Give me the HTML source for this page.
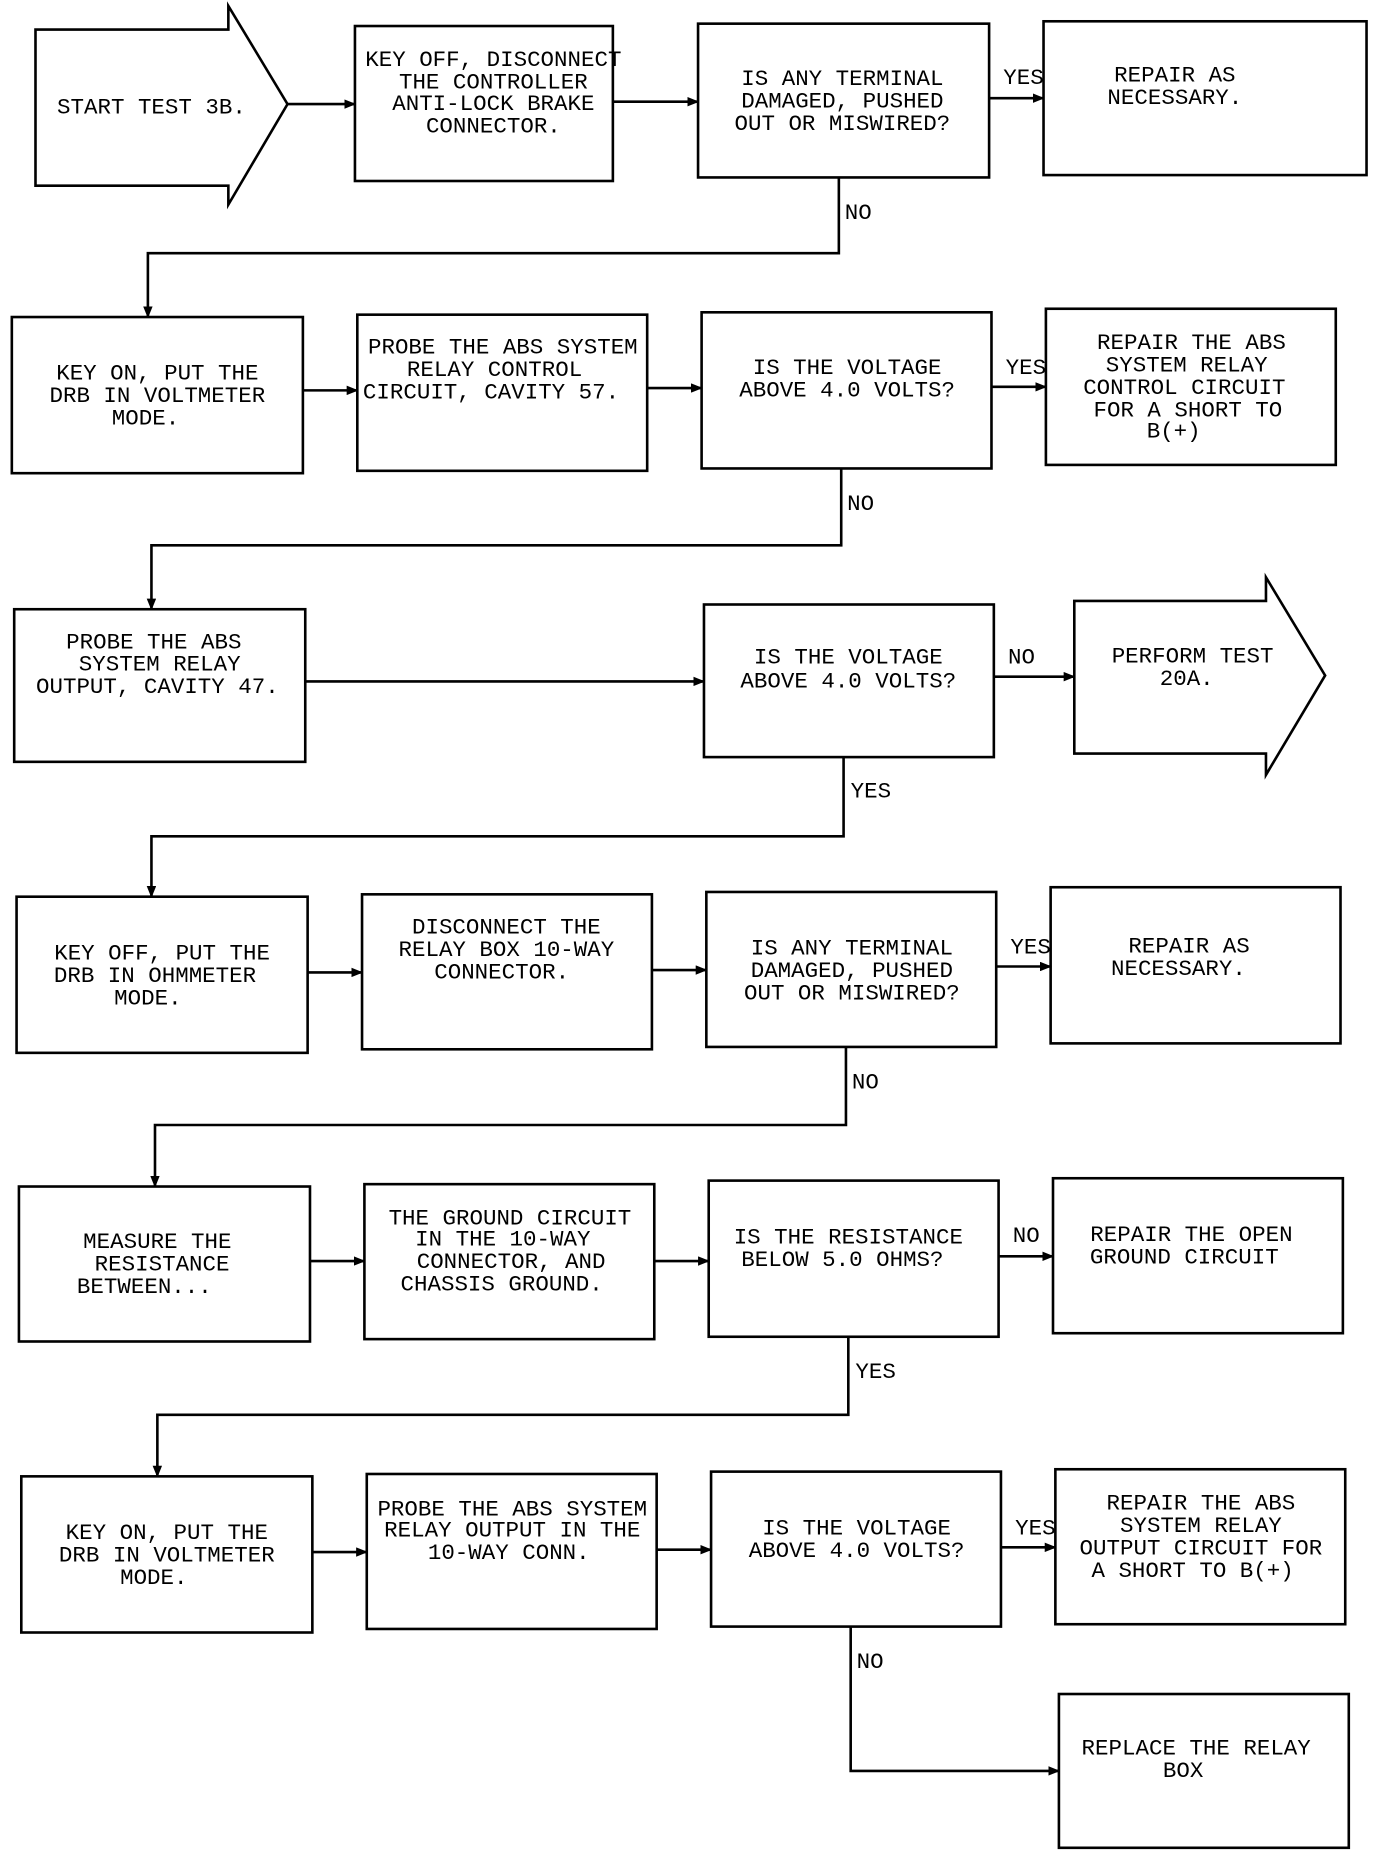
<!DOCTYPE html>
<html><head><meta charset="utf-8"><style>
html,body{margin:0;padding:0;background:#fff;}
svg{display:block;}
text{font-family:"Liberation Mono","DejaVu Sans Mono",monospace;font-size:19px;fill:#000;text-anchor:middle;}
.l{text-anchor:start;}
</style></head><body>
<svg width="1376" height="1862" viewBox="0 0 1163 1574" preserveAspectRatio="none" xmlns="http://www.w3.org/2000/svg">
<defs><marker id="a" markerWidth="10" markerHeight="8" refX="9" refY="4" orient="auto" markerUnits="userSpaceOnUse"><path d="M0,0 L10,4 L0,8 z" fill="#000"/></marker></defs>
<g fill="none" stroke="#000" stroke-width="2.2">
<!-- Row 1 -->
<path d="M30,25 L193,25 L193,5 L243,88 L193,173 L193,157 L30,157 Z"/>
<rect x="300" y="22" width="218" height="131"/>
<rect x="590" y="20" width="246" height="130"/>
<rect x="882" y="18" width="273" height="130"/>
<line x1="243" y1="88" x2="300" y2="88" marker-end="url(#a)"/>
<line x1="518" y1="86" x2="590" y2="86" marker-end="url(#a)"/>
<line x1="836" y1="83" x2="882" y2="83" marker-end="url(#a)"/>
<polyline points="709,150 709,214 125,214 125,268" marker-end="url(#a)"/>
<!-- Row 2 -->
<rect x="10" y="268" width="246" height="132"/>
<rect x="302" y="266" width="245" height="132"/>
<rect x="593" y="264" width="245" height="132"/>
<rect x="884" y="261" width="245" height="132"/>
<line x1="256" y1="330" x2="302" y2="330" marker-end="url(#a)"/>
<line x1="547" y1="328" x2="593" y2="328" marker-end="url(#a)"/>
<line x1="838" y1="327" x2="884" y2="327" marker-end="url(#a)"/>
<polyline points="711,396 711,461 128,461 128,515" marker-end="url(#a)"/>
<!-- Row 3 -->
<rect x="12" y="515" width="246" height="129"/>
<rect x="595" y="511" width="245" height="129"/>
<path d="M908,508 L1070,508 L1070,488 L1120,571 L1070,655 L1070,637 L908,637 Z"/>
<line x1="258" y1="576" x2="595" y2="576" marker-end="url(#a)"/>
<line x1="840" y1="572" x2="908" y2="572" marker-end="url(#a)"/>
<polyline points="713,640 713,707 128,707 128,758" marker-end="url(#a)"/>
<!-- Row 4 -->
<rect x="14" y="758" width="246" height="132"/>
<rect x="306" y="756" width="245" height="131"/>
<rect x="597" y="754" width="245" height="131"/>
<rect x="888" y="750" width="245" height="132"/>
<line x1="260" y1="822" x2="306" y2="822" marker-end="url(#a)"/>
<line x1="551" y1="820" x2="597" y2="820" marker-end="url(#a)"/>
<line x1="842" y1="817" x2="888" y2="817" marker-end="url(#a)"/>
<polyline points="715,885 715,951 131,951 131,1003" marker-end="url(#a)"/>
<!-- Row 5 -->
<rect x="16" y="1003" width="246" height="131"/>
<rect x="308" y="1001" width="245" height="131"/>
<rect x="599" y="998" width="245" height="132"/>
<rect x="890" y="996" width="245" height="131"/>
<line x1="262" y1="1066" x2="308" y2="1066" marker-end="url(#a)"/>
<line x1="553" y1="1066" x2="599" y2="1066" marker-end="url(#a)"/>
<line x1="844" y1="1062" x2="890" y2="1062" marker-end="url(#a)"/>
<polyline points="717,1130 717,1196 133,1196 133,1248" marker-end="url(#a)"/>
<!-- Row 6 -->
<rect x="18" y="1248" width="246" height="132"/>
<rect x="310" y="1246" width="245" height="131"/>
<rect x="601" y="1244" width="245" height="131"/>
<rect x="892" y="1242" width="245" height="131"/>
<rect x="895" y="1432" width="245" height="130"/>
<line x1="264" y1="1312" x2="310" y2="1312" marker-end="url(#a)"/>
<line x1="555" y1="1310" x2="601" y2="1310" marker-end="url(#a)"/>
<line x1="846" y1="1308" x2="892" y2="1308" marker-end="url(#a)"/>
<polyline points="719,1375 719,1497 895,1497" marker-end="url(#a)"/>
</g>
<!-- Text -->
<text x="128" y="96">START TEST 3B.</text>
<text x="417" y="56">KEY OFF, DISCONNECT</text>
<text x="417" y="75">THE CONTROLLER</text>
<text x="417" y="93">ANTI-LOCK BRAKE</text>
<text x="417" y="112">CONNECTOR.</text>
<text x="712" y="72">IS ANY TERMINAL</text>
<text x="712" y="91">DAMAGED, PUSHED</text>
<text x="712" y="110">OUT OR MISWIRED?</text>
<text class="l" x="848" y="71">YES</text>
<text x="993" y="69">REPAIR AS</text>
<text x="993" y="88">NECESSARY.</text>
<text class="l" x="714" y="185">NO</text>

<text x="133" y="321">KEY ON, PUT THE</text>
<text x="133" y="340">DRB IN VOLTMETER</text>
<text x="123" y="359">MODE.</text>
<text x="425" y="299">PROBE THE ABS SYSTEM</text>
<text x="418" y="318">RELAY CONTROL</text>
<text x="415" y="337">CIRCUIT, CAVITY 57.</text>
<text x="716" y="316">IS THE VOLTAGE</text>
<text x="716" y="335">ABOVE 4.0 VOLTS?</text>
<text class="l" x="850" y="316">YES</text>
<text x="1007" y="295">REPAIR THE ABS</text>
<text x="1003" y="314">SYSTEM RELAY</text>
<text x="1001" y="333">CONTROL CIRCUIT</text>
<text x="1004" y="352">FOR A SHORT TO</text>
<text x="992" y="370">B(+)</text>
<text class="l" x="716" y="431">NO</text>

<text x="130" y="548">PROBE THE ABS</text>
<text x="135" y="567">SYSTEM RELAY</text>
<text x="133" y="586">OUTPUT, CAVITY 47.</text>
<text x="717" y="561">IS THE VOLTAGE</text>
<text x="717" y="581">ABOVE 4.0 VOLTS?</text>
<text class="l" x="852" y="561">NO</text>
<text x="1008" y="560">PERFORM TEST</text>
<text x="1003" y="579">20A.</text>
<text class="l" x="719" y="674">YES</text>

<text x="137" y="811">KEY OFF, PUT THE</text>
<text x="131" y="830">DRB IN OHMMETER</text>
<text x="125" y="849">MODE.</text>
<text x="428" y="789">DISCONNECT THE</text>
<text x="428" y="808">RELAY BOX 10-WAY</text>
<text x="424" y="827">CONNECTOR.</text>
<text x="720" y="807">IS ANY TERMINAL</text>
<text x="720" y="826">DAMAGED, PUSHED</text>
<text x="720" y="845">OUT OR MISWIRED?</text>
<text class="l" x="854" y="806">YES</text>
<text x="1005" y="805">REPAIR AS</text>
<text x="996" y="824">NECESSARY.</text>
<text class="l" x="720" y="920">NO</text>

<text x="133" y="1055">MEASURE THE</text>
<text x="137" y="1074">RESISTANCE</text>
<text x="122" y="1093">BETWEEN...</text>
<text x="431" y="1035">THE GROUND CIRCUIT</text>
<text x="425" y="1053">IN THE 10-WAY</text>
<text x="432" y="1072">CONNECTOR, AND</text>
<text x="424" y="1091">CHASSIS GROUND.</text>
<text x="717" y="1051">IS THE RESISTANCE</text>
<text x="712" y="1070">BELOW 5.0 OHMS?</text>
<text class="l" x="856" y="1050">NO</text>
<text x="1007" y="1049">REPAIR THE OPEN</text>
<text x="1001" y="1068">GROUND CIRCUIT</text>
<text class="l" x="723" y="1165">YES</text>

<text x="141" y="1301">KEY ON, PUT THE</text>
<text x="141" y="1320">DRB IN VOLTMETER</text>
<text x="130" y="1339">MODE.</text>
<text x="433" y="1281">PROBE THE ABS SYSTEM</text>
<text x="433" y="1299">RELAY OUTPUT IN THE</text>
<text x="430" y="1318">10-WAY CONN.</text>
<text x="724" y="1297">IS THE VOLTAGE</text>
<text x="724" y="1316">ABOVE 4.0 VOLTS?</text>
<text class="l" x="858" y="1297">YES</text>
<text x="1015" y="1276">REPAIR THE ABS</text>
<text x="1015" y="1295">SYSTEM RELAY</text>
<text x="1015" y="1314">OUTPUT CIRCUIT FOR</text>
<text x="1008" y="1333">A SHORT TO B(+)</text>
<text class="l" x="724" y="1410">NO</text>
<text x="1011" y="1483">REPLACE THE RELAY</text>
<text x="1000" y="1502">BOX</text>
</svg>
</body></html>
